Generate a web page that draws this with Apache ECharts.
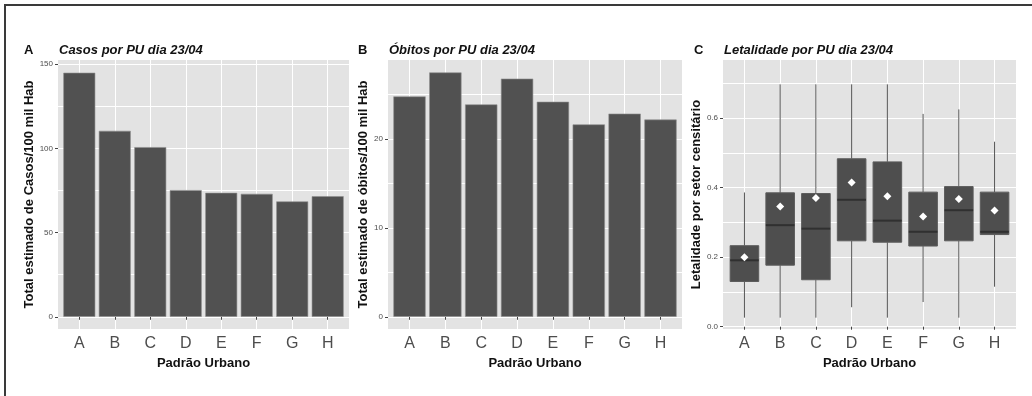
<!DOCTYPE html>
<html><head><meta charset="utf-8">
<script src="https://cdn.jsdelivr.net/npm/echarts@6/dist/echarts.min.js"></script>
<style>html,body{margin:0;padding:0;background:#fff}#c{width:1032px;height:396px}</style>
</head><body><div id="c"></div>
<script>
// ---- data ----
const categories = ['A','B','C','D','E','F','G','H'];
const casos  = [144.9, 110.4, 100.7, 75.2, 73.6, 73.0, 68.5, 71.6];
const obitos = [24.8, 27.5, 23.9, 26.8, 24.2, 21.65, 22.86, 22.2];
const letMin    = [0.026, 0.026, 0.026, 0.056, 0.026, 0.071, 0.026, 0.115];
const letQ1     = [0.130, 0.177, 0.135, 0.247, 0.243, 0.232, 0.247, 0.265];
const letMedian = [0.191, 0.292, 0.282, 0.365, 0.305, 0.273, 0.335, 0.273];
const letQ3     = [0.233, 0.385, 0.383, 0.483, 0.474, 0.387, 0.403, 0.387];
const letMax    = [0.386, 0.697, 0.697, 0.697, 0.697, 0.612, 0.625, 0.532];
const letMean   = [0.200, 0.346, 0.370, 0.415, 0.375, 0.317, 0.367, 0.334];
const casosTicks  = [0, 50, 100, 150];
const casosMinor  = [25, 75, 125];
const obitosTicks = [0, 10, 20];
const obitosMinor = [5, 15, 25];
const letTicks    = [0, 0.2, 0.4, 0.6];
const letMinor    = [0.1, 0.3, 0.5, 0.7];
const panelTitles = ['Casos por PU dia 23/04', 'Óbitos por PU dia 23/04', 'Letalidade por PU dia 23/04'];
const panelLetters = ['A', 'B', 'C'];
const yNames = ['Total estimado de Casos/100 mil Hab', 'Total estimado de óbitos/100 mil Hab', 'Letalidade por setor censitário'];
const xName = 'Padrão Urbano';

// ---- layout / style ----
const FONT = 'Liberation Sans, Arial, sans-serif';
const positions = categories.map((c, i) => i + 1);
const grids = [
  {left: 58, width: 291, top: 60, bottom: 67},
  {left: 388, width: 294, top: 60, bottom: 67},
  {left: 723, width: 293, top: 60, bottom: 67}
];
const yRanges = [[-7.25, 152.45], [-1.375, 28.9], [-0.0066, 0.767]];
const yMajor = [casosTicks, obitosTicks, letTicks];
const yMinorT = [casosMinor, obitosMinor, letMinor];
const yFmt = [v => String(v), v => String(v), v => v.toFixed(1)];
const yNameGap = [16, 16, 17];
const letterX = [24, 358, 694];

const chart = echarts.init(document.getElementById('c'), null, {renderer: 'canvas'});

const xAxes = [], yAxes = [];
grids.forEach((g, i) => {
  xAxes.push({
    gridIndex: i, type: 'value', min: 0.4, max: 8.6,
    axisLine: {show: false},
    axisTick: {show: true, length: 3, customValues: positions, lineStyle: {color: '#444', width: 1}},
    axisLabel: {customValues: positions, formatter: v => categories[Math.round(v) - 1], fontSize: 16, color: '#4d4d4d', margin: 7, fontFamily: FONT},
    splitLine: {show: true, lineStyle: {color: '#ffffff', width: 1}},
    name: xName, nameLocation: 'middle', nameGap: 25,
    nameTextStyle: {fontWeight: 'bold', fontSize: 13, color: '#111', fontFamily: FONT}
  });
});
grids.forEach((g, i) => {
  yAxes.push({
    gridIndex: i, type: 'value', min: yRanges[i][0], max: yRanges[i][1], position: 'left',
    axisLine: {show: false},
    axisTick: {show: true, length: 3, customValues: yMajor[i], lineStyle: {color: '#444', width: 1}},
    axisLabel: {customValues: yMajor[i], formatter: yFmt[i], fontSize: 8, color: '#4d4d4d', margin: 5, fontFamily: FONT},
    splitLine: {show: true, lineStyle: {color: '#ffffff', width: 1.2}},
    name: yNames[i], nameLocation: 'middle', nameGap: yNameGap[i],
    nameTextStyle: {fontWeight: 'bold', fontSize: 13, color: '#111', fontFamily: FONT}
  });
});
// minor gridline axes (indices 3,4,5)
grids.forEach((g, i) => {
  yAxes.push({
    gridIndex: i, type: 'value', min: yRanges[i][0], max: yRanges[i][1], position: 'left',
    axisLine: {show: false},
    axisTick: {show: true, length: 0, customValues: yMinorT[i], lineStyle: {color: 'rgba(0,0,0,0)'}},
    axisLabel: {show: false, customValues: yMinorT[i]},
    splitLine: {show: true, lineStyle: {color: '#ffffff', width: 1}}
  });
});

const titles = [];
grids.forEach((g, i) => {
  titles.push({text: panelLetters[i], left: letterX[i], top: 44, padding: 0,
    textStyle: {fontWeight: 'bold', fontSize: 13, color: '#111', fontFamily: FONT}});
  titles.push({text: panelTitles[i], left: g.left + 1, top: 44, padding: 0,
    textStyle: {fontWeight: 'bold', fontStyle: 'italic', fontSize: 13, color: '#111', fontFamily: FONT}});
});

function renderBox(params, api) {
  const x = api.value(0);
  const pMin = api.coord([x, api.value(1)]);
  const pQ1 = api.coord([x, api.value(2)]);
  const pMed = api.coord([x, api.value(3)]);
  const pQ3 = api.coord([x, api.value(4)]);
  const pMax = api.coord([x, api.value(5)]);
  const w = api.size([0.8, 0])[0];
  const lineStyle = {stroke: '#555555', lineWidth: 1};
  return {type: 'group', children: [
    {type: 'line', shape: {x1: pMin[0], y1: pMin[1], x2: pQ1[0], y2: pQ1[1]}, style: lineStyle},
    {type: 'line', shape: {x1: pQ3[0], y1: pQ3[1], x2: pMax[0], y2: pMax[1]}, style: lineStyle},
    {type: 'rect', shape: {x: pQ3[0] - w / 2, y: pQ3[1], width: w, height: pQ1[1] - pQ3[1]},
      style: {fill: '#4e4e4e', stroke: '#5c5c5c', lineWidth: 1}},
    {type: 'line', shape: {x1: pMed[0] - w / 2, y1: pMed[1], x2: pMed[0] + w / 2, y2: pMed[1]},
      style: {stroke: '#303030', lineWidth: 2}}
  ]};
}

const barStyle = {color: '#515151', borderColor: '#8e8e8e', borderWidth: 0.6};

chart.setOption({
  animation: false,
  backgroundColor: '#ffffff',
  title: titles,
  grid: grids.map(g => Object.assign({show: true, backgroundColor: '#e3e3e3', borderWidth: 0, outerBoundsMode: 'none'}, g)),
  xAxis: xAxes,
  yAxis: yAxes,
  series: [
    {type: 'bar', xAxisIndex: 0, yAxisIndex: 0, barWidth: '90%', itemStyle: barStyle, z: 2,
      data: casos.map((v, i) => [positions[i], v])},
    {type: 'bar', xAxisIndex: 1, yAxisIndex: 1, barWidth: '90%', itemStyle: barStyle, z: 2,
      data: obitos.map((v, i) => [positions[i], v])},
    {type: 'custom', xAxisIndex: 2, yAxisIndex: 2, renderItem: renderBox, z: 2,
      encode: {x: 0, y: [1, 2, 3, 4, 5]},
      data: categories.map((c, i) => [positions[i], letMin[i], letQ1[i], letMedian[i], letQ3[i], letMax[i]])},
    {type: 'scatter', xAxisIndex: 2, yAxisIndex: 2, symbol: 'diamond', symbolSize: 8, z: 5,
      itemStyle: {color: '#ffffff', opacity: 1},
      data: letMean.map((v, i) => [positions[i], v])}
  ],
  graphic: [
    {type: 'line', shape: {x1: 4, y1: 5, x2: 1032, y2: 5}, style: {stroke: '#3a3a3a', lineWidth: 2}},
    {type: 'line', shape: {x1: 5, y1: 4, x2: 5, y2: 396}, style: {stroke: '#3a3a3a', lineWidth: 2}}
  ]
});
</script>
</body></html>
